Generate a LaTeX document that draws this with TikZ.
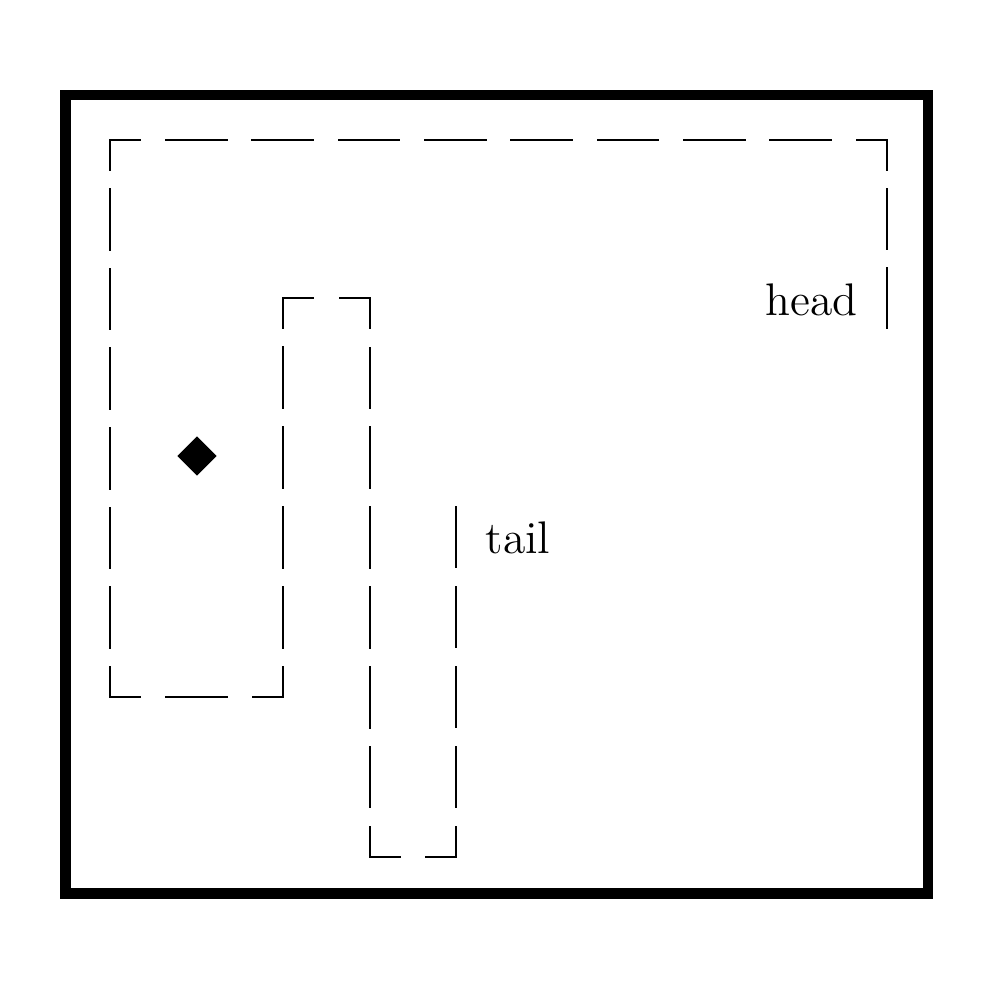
\documentclass[tikz,border=0pt]{standalone}
\usetikzlibrary{shapes.geometric}

\begin{document}
\begin{tikzpicture}[
  x=0.1mm, y=-0.1mm,
  every node/.style={font=\fontsize{13}{15}\selectfont,inner sep=0pt},
  board/.style={draw,line width=3.1pt},
  trail/.style={draw,line width=0.75pt,line cap=rect},
  food/.style={diamond,fill,minimum width=4mm,minimum height=4mm}
]
  \useasboundingbox (0,0) rectangle (1000,1000);
  \draw[board] (65.5,95) rectangle (928,893.5);
  % corners of the snake, from head to tail
  \coordinate (hd) at (887,328);
  \coordinate (c1) at (887,140);
  \coordinate (c2) at (110,140);
  \coordinate (c3) at (110,697);
  \coordinate (c4) at (283,697);
  \coordinate (c5) at (283,298);
  \coordinate (c6) at (370,298);
  \coordinate (c7) at (370,857);
  \coordinate (c8) at (456,857);
  \coordinate (tl) at (456,507);
  % head end starts with a full dash
  \draw[trail,dash pattern=on 6mm off 1.9mm] (hd) -- (c1);
  \foreach \a/\b/\g in {c1/c2/2.633,c2/c3/1.957,c3/c4/2.65,c4/c5/1.98,
                        c5/c6/2.7,c6/c7/1.986,c7/c8/2.6,c8/tl/2}
    \draw[trail,dash pattern=on 6mm off \g mm,dash phase=3mm] (\a) -- (\b);
  \node[food] (apple) at (197,456) {};
  \node[anchor=base east] (headlbl) at (858,315) {head};
  \node[anchor=base west] (taillbl) at (485,553) {tail};
\end{tikzpicture}
\end{document}
